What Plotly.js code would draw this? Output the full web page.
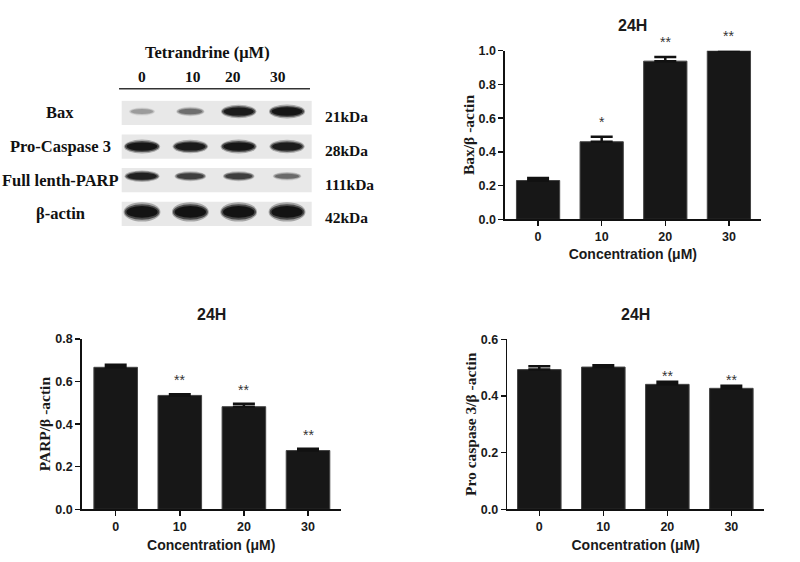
<!DOCTYPE html>
<html>
<head>
<meta charset="utf-8">
<script src="https://cdn.plot.ly/plotly-3.0.1.min.js"></script>
<style>
html,body{margin:0;padding:0;background:#fff;}
#chart{width:800px;height:562px;}
</style>
</head>
<body>
<div id="chart"></div>
<script>
// ---------- DATA ----------
const concentrations = ['0', '10', '20', '30'];

const baxRatio   = [0.230, 0.460, 0.938, 1.000];
const baxErr     = [0.015, 0.030, 0.025, 0.000];
const baxSig     = ['', '*', '**', '**'];

const parpRatio  = [0.667, 0.535, 0.482, 0.276];
const parpErr    = [0.012, 0.005, 0.014, 0.009];
const parpSig    = ['', '**', '**', '**'];

const casp3Ratio = [0.493, 0.502, 0.441, 0.427];
const casp3Err   = [0.012, 0.006, 0.009, 0.009];
const casp3Sig   = ['', '', '**', '**'];

const panelTitles = ['24H', '24H', '24H'];
const yTitles = ['Bax/β -actin', 'PARP/β -actin', 'Pro caspase 3/β -actin'];
const xTitle = 'Concentration (μM)';

// Western blot
const blotHeader = 'Tetrandrine (μM)';
const lanes = ['0', '10', '20', '30'];
const proteins = ['Bax', 'Pro-Caspase 3', 'Full lenth-PARP', 'β-actin'];
const kda = ['21kDa', '28kDa', '111kDa', '42kDa'];
// relative band darkness (0..1) per protein row, per lane
const bandIntensity = [
  [0.22, 0.38, 0.90, 0.95],
  [0.95, 0.90, 0.95, 0.88],
  [0.85, 0.62, 0.62, 0.40],
  [1.00, 1.00, 1.00, 1.00]
];

// ---------- STYLE ----------
const SANS = 'Liberation Sans, Arial, sans-serif';
const SERIF = 'Liberation Serif, Times New Roman, serif';
const barColor = '#171717';
const rowThick = [0.34, 0.34, 0.30, 0.46];
const rowOffset = [-0.04, 0.0, -0.12, -0.06];
const laneLabelShift = [0, 3, -6, -9];

function px(y) { return 1 - y / 562; }

function barTrace(vals, errs, xa, ya) {
  return {
    type: 'bar', x: concentrations, y: vals, xaxis: xa, yaxis: ya,
    width: 0.68,
    marker: {color: barColor, line: {color: '#444', width: 1}},
    error_y: {type: 'data', array: errs, arrayminus: errs.map(() => 0), symmetric: false,
              color: '#111', thickness: 2.5, width: 11},
    hoverinfo: 'skip', showlegend: false
  };
}

const data = [
  barTrace(baxRatio, baxErr, 'x', 'y'),
  barTrace(parpRatio, parpErr, 'x2', 'y2'),
  barTrace(casp3Ratio, casp3Err, 'x3', 'y3')
];

function xAxis(domain, range, anchor, standoff) {
  return {
    domain: domain, range: range, anchor: anchor, type: 'category',
    showline: true, linecolor: '#111', linewidth: 1.6,
    ticks: 'outside', ticklen: 5, tickwidth: 1.5, tickcolor: '#111',
    tickfont: {family: SANS, size: 12.5, color: '#1a1a1a', weight: 'bold'},
    showgrid: false, zeroline: false, fixedrange: true,
    title: {text: xTitle, font: {family: SANS, size: 14, color: '#1a1a1a', weight: 'bold'}, standoff: standoff}
  };
}
function yAxis(domain, range, anchor, title, standoff) {
  return {
    domain: domain, range: range, anchor: anchor, dtick: 0.2, tickformat: '.1f',
    showline: true, linecolor: '#111', linewidth: 1.6,
    ticks: 'outside', ticklen: 5, tickwidth: 1.5, tickcolor: '#111',
    tickfont: {family: SANS, size: 12.5, color: '#1a1a1a', weight: 'bold'},
    showgrid: false, zeroline: false, fixedrange: true,
    title: {text: title, font: {family: SERIF, size: 15.5, color: '#1a1a1a', weight: 'bold'}, standoff: standoff}
  };
}

const annotations = [];
const shapes = [];

// panel titles
const titlePos = [[632.9, 25], [211.2, 314.5], [635.7, 314.5]];
panelTitles.forEach((t, i) => {
  annotations.push({text: t, xref: 'paper', yref: 'paper', x: titlePos[i][0] / 800, y: px(titlePos[i][1]),
    xanchor: 'center', yanchor: 'middle', showarrow: false,
    font: {family: SANS, size: 16, color: '#1a1a1a', weight: 'bold'}});
});

// significance stars
function addStars(sig, vals, errs, xa, ya, shift) {
  sig.forEach((s, i) => {
    if (!s) return;
    annotations.push({text: s, xref: xa, yref: ya, x: i, y: vals[i] + errs[i],
      xanchor: 'center', yanchor: 'bottom', yshift: shift, showarrow: false,
      font: {family: SANS, size: 14, color: '#333'}});
  });
}
addStars(baxSig, baxRatio, baxErr, 'x', 'y', 5);
addStars(parpSig, parpRatio, parpErr, 'x2', 'y2', 4);
addStars(casp3Sig, casp3Ratio, casp3Err, 'x3', 'y3', -4);

// ---------- WESTERN BLOT ----------
proteins.forEach((p, r) => {
  shapes.push({type: 'rect', xref: 'x4 domain', yref: 'y4', x0: 0, x1: 1, y0: r - 0.36, y1: r + 0.36,
    fillcolor: '#e8e8e8', line: {width: 0}, layer: 'below'});
  bandIntensity[r].forEach((I, l) => {
    const w = 0.45 + 0.27 * I;
    const h = rowThick[r] * (0.45 + 0.55 * I);
    const yc = r + rowOffset[r];
    const layers = [[1.06, 1.25, 0.3], [1.0, 1.0, 0.6], [0.9, 0.75, 0.9]];
    layers.forEach(([sw, sh, op]) => {
      shapes.push({type: 'circle', xref: 'x4', yref: 'y4',
        x0: l - w * sw / 2, x1: l + w * sw / 2, y0: yc - h * sh / 2, y1: yc + h * sh / 2,
        fillcolor: '#0d0d0d', opacity: op * I, line: {width: 0, color: 'rgba(0,0,0,0)'}});
    });
  });
  annotations.push({text: p, xref: 'paper', yref: 'y4', x: 60 / 800, y: r, xanchor: 'center', yanchor: 'middle',
    showarrow: false, font: {family: SERIF, size: 16.5, color: '#111', weight: 'bold'}});
  annotations.push({text: kda[r], xref: 'paper', yref: 'y4', x: 323 / 800, y: r, yshift: -4, xanchor: 'left', yanchor: 'middle',
    showarrow: false, font: {family: SERIF, size: 15.5, color: '#111', weight: 'bold'}});
});
lanes.forEach((t, l) => {
  annotations.push({text: t, xref: 'x4', yref: 'paper', x: l, y: px(76.7), xshift: laneLabelShift[l],
    xanchor: 'center', yanchor: 'middle', showarrow: false,
    font: {family: SERIF, size: 15.5, color: '#111', weight: 'bold'}});
});
annotations.push({text: blotHeader, xref: 'paper', yref: 'paper', x: 207.5 / 800, y: px(52.7),
  xanchor: 'center', yanchor: 'middle', showarrow: false,
  font: {family: SERIF, size: 16.5, color: '#111', weight: 'bold'}});
shapes.push({type: 'line', xref: 'x4 domain', yref: 'paper', x0: -0.014, x1: 0.991, y0: px(88.7), y1: px(88.7),
  line: {color: '#333', width: 1.5}});

const layout = {
  width: 800, height: 562,
  margin: {l: 0, r: 0, t: 0, b: 0},
  paper_bgcolor: '#ffffff', plot_bgcolor: '#ffffff',
  showlegend: false, bargap: 0.32,
  xaxis: xAxis([505 / 800, 760.7 / 800], [-0.52, 3.5], 'y', 6),
  yaxis: yAxis([px(219.3), px(50.7)], [0, 1.0], 'x', yTitles[0], 0),
  xaxis2: xAxis([81.7 / 800, 340.7 / 800], [-0.53, 3.51], 'y2', 7),
  yaxis2: yAxis([px(509.3), px(339)], [0, 0.8], 'x2', yTitles[1], 1),
  xaxis3: xAxis([507.3 / 800, 764 / 800], [-0.5, 3.51], 'y3', 7),
  yaxis3: yAxis([px(509.3), px(339.3)], [0, 0.6], 'x3', yTitles[2], 0),
  xaxis4: {domain: [121.7 / 800, 311.7 / 800], range: [-0.42, 3.51], visible: false, anchor: 'y4', fixedrange: true},
  yaxis4: {domain: [px(226.4), px(100.4)], range: [3.37, -0.37], visible: false, anchor: 'x4', fixedrange: true},
  annotations: annotations,
  shapes: shapes
};

Plotly.newPlot('chart', data, layout, {displayModeBar: false, staticPlot: true});
</script>
</body>
</html>
